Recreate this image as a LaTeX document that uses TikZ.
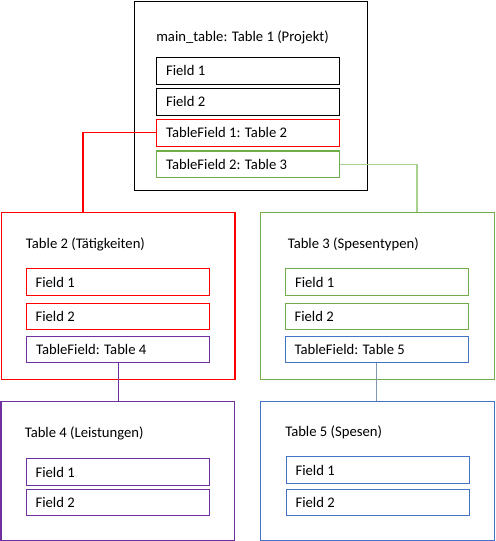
\documentclass[tikz,border=0pt]{standalone}
\usepackage{fontspec}
\setmainfont{Carlito}
\definecolor{cred}{HTML}{FF0000}
\definecolor{cgreen}{HTML}{70AD47}
\definecolor{cpurple}{HTML}{7030A0}
\definecolor{cblue}{HTML}{4472C4}
\definecolor{cgreenline}{HTML}{A9D18E}
\definecolor{cblueline}{HTML}{8497B0}
\begin{document}
\begin{tikzpicture}[x=0.75pt,y=-0.75pt,
  fieldbox/.style={draw, anchor=north west, minimum width=137.25pt, minimum height=19.9pt,
    text width=123pt, inner xsep=7.1pt, inner ysep=0pt, align=flush left,
    font=\fontsize{11}{13}\selectfont, line width=0.8pt},
  tablebox/.style={draw, anchor=north west, line width=0.8pt, inner sep=0pt},
  ttl/.style={anchor=west, inner sep=0pt, font=\fontsize{11}{13}\selectfont},
  conn/.style={line width=0.8pt}]
\useasboundingbox (0,0) rectangle (495,541);

% Table 1
\node[tablebox, minimum width=175.1pt, minimum height=141.75pt] (t1) at (133.5,1) {};
\node[ttl] (t1t) at (156,37) {main\_table: Table 1 (Projekt)};
\node[fieldbox] (t1f1) at (156,57) {Field 1};
\node[fieldbox] (t1f2) at (156,88) {Field 2};
\node[fieldbox, draw=cred] (tf1) at (156,119) {TableField 1: Table 2};
\node[fieldbox, draw=cgreen] (tf2) at (156,150.5) {TableField 2: Table 3};

% Table 2
\node[tablebox, draw=cred, minimum width=175.1pt, minimum height=125pt] (t2) at (1,212.3) {};
\node[ttl] (t2t) at (25.7,244) {Table 2 (Tätigkeiten)};
\node[fieldbox, draw=cred] (t2f1) at (25.5,268.3) {Field 1};
\node[fieldbox, draw=cred] (t2f2) at (25.5,302.5) {Field 2};
\node[fieldbox, draw=cpurple] (tf4) at (26,335.5) {TableField: Table 4};

% Table 3
\node[tablebox, draw=cgreen, minimum width=175.6pt, minimum height=125pt] (t3) at (259.5,212.3) {};
\node[ttl] (t3t) at (287.5,244) {Table 3 (Spesentypen)};
\node[fieldbox, draw=cgreen] (t3f1) at (285,268.3) {Field 1};
\node[fieldbox, draw=cgreen] (t3f2) at (284.5,302.5) {Field 2};
\node[fieldbox, draw=cblue] (tf5) at (284.5,335.5) {TableField: Table 5};

% Table 4
\node[tablebox, draw=cpurple, minimum width=175.1pt, minimum height=104.25pt] (t4) at (0.5,401) {};
\node[ttl] (t4t) at (24.5,433) {Table 4 (Leistungen)};
\node[fieldbox, draw=cpurple] (t4f1) at (25.5,458.3) {Field 1};
\node[fieldbox, draw=cpurple] (t4f2) at (25.5,488.5) {Field 2};

% Table 5
\node[tablebox, draw=cblue, minimum width=175.9pt, minimum height=104.25pt] (t5) at (259.5,401) {};
\node[ttl] (t5t) at (285,432.5) {Table 5 (Spesen)};
\node[fieldbox, draw=cblue] (t5f1) at (285.5,456.3) {Field 1};
\node[fieldbox, draw=cblue] (t5f2) at (285.5,488.5) {Field 2};

% connectors
\coordinate (c1) at (83,212.3);
\coordinate (c2) at (417,212.3);
\draw[conn, cred] (tf1.west) -| (c1);
\draw[conn, cgreenline] (tf2.east) -| (c2);
\draw[conn, cpurple] (tf4.south) -- (tf4.south |- t4.north);
\draw[conn, cblueline] (tf5.south) -- (tf5.south |- t5.north);
\end{tikzpicture}
\end{document}
